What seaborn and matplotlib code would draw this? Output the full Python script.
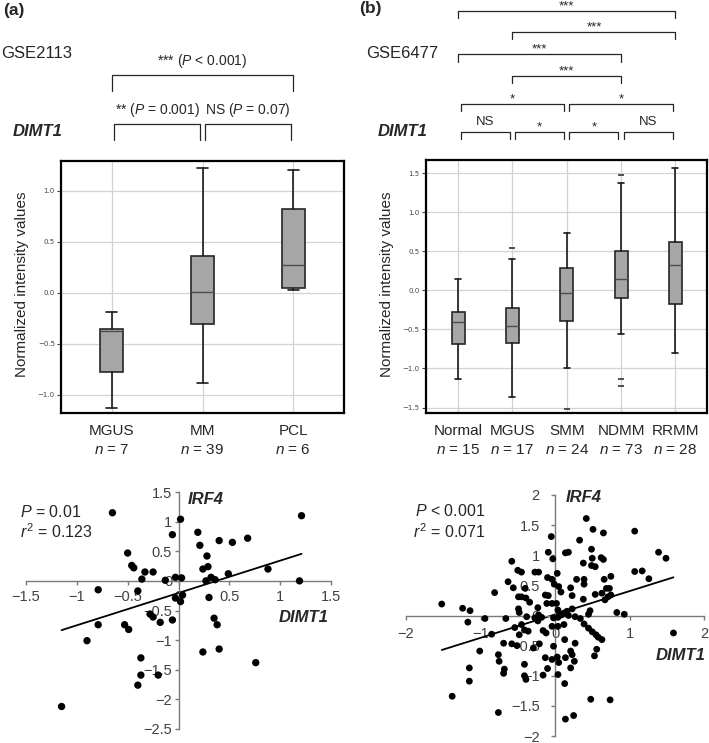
import numpy as np
import pandas as pd
import matplotlib
matplotlib.use('Agg')
import matplotlib.pyplot as plt
import matplotlib.transforms as mtransforms
import seaborn as sns

sns.set_theme(style='white')
plt.rcParams['font.family'] = ['Liberation Sans', 'DejaVu Sans']
plt.rcParams['mathtext.fontset'] = 'custom'
plt.rcParams['mathtext.rm'] = 'Liberation Sans'
plt.rcParams['mathtext.it'] = 'Liberation Sans:italic'
plt.rcParams['mathtext.bf'] = 'Liberation Sans:bold'

# ---- (a) GSE2113 box plot summary (whisker low, Q1, median, Q3, whisker high)
groups_a = ['MGUS', 'MM', 'PCL']
n_a = [7, 39, 6]
lo_a = [-1.13, -0.89, 0.03]
q1_a = [-0.78, -0.31, 0.05]
med_a = [-0.38, 0.01, 0.27]
q3_a = [-0.36, 0.36, 0.82]
hi_a = [-0.19, 1.22, 1.20]
fliers_a = [[], [], []]
# comparisons: (group i, group j, label, bracket level)
comp_a = [(0, 1, '** ($\\it{P}$ = 0.001)', 0),
          (1, 2, 'NS ($\\it{P}$ = 0.07)', 0),
          (0, 2, '*** ($\\it{P}$ < 0.001)', 1)]

# ---- (b) GSE6477 box plot summary
groups_b = ['Normal', 'MGUS', 'SMM', 'NDMM', 'RRMM']
n_b = [15, 17, 24, 73, 28]
lo_b = [-1.14, -1.36, -1.00, -0.56, -0.80]
q1_b = [-0.68, -0.67, -0.39, -0.10, -0.18]
med_b = [-0.41, -0.45, -0.03, 0.14, 0.32]
q3_b = [-0.28, -0.22, 0.29, 0.50, 0.62]
hi_b = [0.15, 0.40, 0.73, 1.38, 1.57]
fliers_b = [[], [0.54], [-1.52], [1.48, -1.14, -1.23], []]
comp_b = [(0, 1, 'NS', 0), (1, 2, '*', 0), (2, 3, '*', 0), (3, 4, 'NS', 0),
          (0, 2, '*', 1), (2, 4, '*', 1),
          (1, 3, '***', 2), (0, 3, '***', 3), (1, 4, '***', 4), (0, 4, '***', 5)]

# ---- scatter (a): DIMT1 vs IRF4, GSE2113
dimt1_a = [-0.65, 0.02, 1.21, -0.06, 0.19, 0.21, 0.40, 0.53, 0.68, -0.50, 0.28, -0.46, -0.44,
           -0.33, -0.25, -0.36, -0.13, -0.03, 0.03, 0.24, 0.29, 0.27, 0.32, 0.36, 0.49, 0.88,
           1.19, -0.79, -0.40, -0.03, 0.02, 0.04, 0.30, -0.79, -0.53, -0.49, -0.90, -0.28,
           -0.25, -0.18, -0.06, 0.35, 0.38, 0.24, 0.40, 0.76, -0.37, -0.37, -0.20, -0.40, -1.15]
irf4_a = [1.15, 1.04, 1.10, 0.78, 0.82, 0.60, 0.68, 0.65, 0.72, 0.47, 0.42, 0.26, 0.22,
          0.15, 0.15, 0.03, 0.01, 0.06, 0.05, 0.20, 0.24, 0.00, 0.06, 0.02, 0.12, 0.20,
          0.00, -0.15, -0.17, -0.29, -0.35, -0.24, -0.28, -0.74, -0.74, -0.82, -1.01, -0.56,
          -0.61, -0.70, -0.66, -0.63, -0.74, -1.20, -1.15, -1.38, -1.30, -1.59, -1.59, -1.76, -2.12]

# ---- scatter (b): DIMT1 vs IRF4, GSE6477
dimt1_b = [0.42, -0.05, 0.51, 0.65, 1.07, 0.33, -0.09, -0.03, 0.14, 0.18, 0.49, 0.50, 0.62,
           0.65, 0.38, 0.49, 0.54, 1.39, 1.49, -0.58, -0.50, -0.45, -0.27, -0.22, 0.03, -0.10,
           -0.04, 0.29, 0.39, 0.39, 0.66, 0.75, 1.07, 1.17, 1.26, -0.63, -0.56, -0.40, -0.01,
           0.05, 0.21, 0.08, 0.23, 0.38, 0.54, 0.63, 0.69, 0.73, 0.71, 0.75, 0.67, -0.81,
           -0.49, -0.45, -0.39, -0.34, -0.13, -0.09, -0.11, -0.04, 0.02, 0.04, 0.12, 0.23,
           0.16, -0.23, -0.49, -0.48, -1.52, -1.24, -1.14, -1.17, -0.94, -0.66, -0.85, -0.38,
           -0.22, -0.27, -0.18, -0.02, 0.04, 0.09, 0.18, 0.27, 0.34, 0.45, 0.47, 0.83, 0.93,
           1.59, -0.54, -0.45, -0.41, -0.48, -0.36, -0.23, -0.16, -0.12, -0.04, 0.04, 0.12,
           0.39, 0.45, 0.50, 0.55, 0.58, 0.63, -0.69, -0.58, -0.51, -0.29, -0.21, -0.02, 0.13,
           0.27, -1.01, -0.76, -0.75, -0.68, -0.69, -0.41, -0.41, -0.39, -0.16, -0.10, -0.13,
           -0.04, 0.03, 0.05, 0.14, 0.21, 0.23, 0.21, 0.26, 0.53, 0.56, 0.04, 0.13, -1.15,
           -1.15, -1.38, -0.76, 0.48, 0.74, 0.14, 0.25]
irf4_b = [1.61, 1.31, 1.43, 1.37, 1.40, 1.25, 1.05, 0.94, 1.04, 1.05, 1.10, 0.95, 0.96,
          0.93, 0.87, 0.83, 0.81, 1.05, 0.95, 0.90, 0.75, 0.72, 0.72, 0.72, 0.70, 0.63,
          0.60, 0.60, 0.60, 0.52, 0.60, 0.65, 0.73, 0.74, 0.61, 0.56, 0.46, 0.45, 0.52,
          0.48, 0.46, 0.39, 0.33, 0.27, 0.35, 0.37, 0.45, 0.45, 0.31, 0.34, 0.26, 0.38,
          0.31, 0.31, 0.29, 0.22, 0.34, 0.33, 0.20, 0.20, 0.20, 0.09, 0.04, 0.11,
          0.07, 0.13, 0.11, 0.05, 0.19, 0.12, 0.08, -0.11, -0.05, -0.05, -0.31, -0.02,
          0.01, -0.04, -0.03, -0.04, -0.03, 0.01, 0.00, -0.02, -0.05, 0.02, 0.08, 0.05, 0.02,
          -0.29, -0.20, -0.15, -0.24, -0.32, -0.26, -0.09, -0.25, -0.29, -0.18, -0.18, -0.15,
          -0.14, -0.21, -0.27, -0.32, -0.36, -0.40, -0.46, -0.47, -0.50, -0.54, -0.47, -0.51, -0.40,
          -0.46, -0.59, -0.65, -0.76, -0.89, -0.96, -0.81, -1.00, -1.06, -0.99, -0.88, -0.70,
          -0.73, -0.69, -0.78, -0.70, -0.59, -0.65, -0.87, -0.76, -0.67, -0.56, -0.98, -1.13, -0.87,
          -1.09, -1.34, -1.61, -1.39, -1.40, -1.72, -1.66]

W, H = 709, 743
fig = plt.figure(figsize=(W / 100, H / 100), dpi=100)


def px_rect(l, t, r, b):
    return [l / W, 1 - b / H, (r - l) / W, (b - t) / H]


def fy(py):
    return 1 - py / H


ax_a = fig.add_axes(px_rect(61, 161, 344, 413))
ax_b = fig.add_axes(px_rect(426, 160, 707, 413))
ax_c = fig.add_axes(px_rect(26, 492, 331, 729))
ax_d = fig.add_axes(px_rect(406, 495, 704, 736))


def draw_box(ax, groups, n, lo, q1, med, q3, hi, fliers, width, capw, xlim, ylim, yticks):
    stats = [dict(label=g, whislo=lo[i], q1=q1[i], med=med[i], q3=q3[i],
                  whishi=hi[i], fliers=fliers[i]) for i, g in enumerate(groups)]
    ax.bxp(stats, positions=list(range(len(groups))), widths=width, capwidths=capw,
           patch_artist=True, manage_ticks=False,
           boxprops=dict(facecolor='#a6a6a6', edgecolor='#262626', linewidth=1.2),
           medianprops=dict(color='#4d4d4d', linewidth=1.0),
           whiskerprops=dict(color='#1a1a1a', linewidth=1.2),
           capprops=dict(color='#1a1a1a', linewidth=1.2),
           flierprops=dict(marker='_', markersize=5, markeredgecolor='#333333',
                           markeredgewidth=1.2))
    ax.set_xlim(xlim)
    ax.set_ylim(ylim)
    ax.set_xticks(range(len(groups)))
    ax.set_xticklabels([])
    ax.set_yticks(yticks)
    ax.grid(True, color='#d3d3d3', linewidth=0.9)
    ax.set_axisbelow(True)
    ax.tick_params(axis='x', length=0)
    ax.tick_params(axis='y', left=True, length=3, width=0.8, color='#444444',
                   labelsize=5, labelcolor='#444444', pad=1.5)
    for lab in ax.get_yticklabels():
        lab.set_fontfamily('DejaVu Sans')
    for sp in ax.spines.values():
        sp.set_color('black')
        sp.set_linewidth(1.6)
    trans = mtransforms.blended_transform_factory(ax.transData, fig.transFigure)
    for i, g in enumerate(groups):
        ax.text(i, fy(431), g, transform=trans, ha='center', va='center', fontsize=11)
        ax.text(i, fy(449.5), '$\\it{n}$ = %d' % n[i], transform=trans, ha='center',
                va='center', fontsize=11)


def draw_brackets(ax, comps, levels_px, leg_px, gap, fontsize):
    trans = mtransforms.blended_transform_factory(ax.transData, fig.transFigure)
    for i, j, label, lev in comps:
        ytop = levels_px[lev]
        x1, x2 = i + gap[lev], j - gap[lev]
        ax.plot([x1, x1, x2, x2], [fy(ytop + leg_px[lev]), fy(ytop), fy(ytop), fy(ytop + leg_px[lev])],
                transform=trans, color='#262626', lw=0.9, clip_on=False)
        stars_only = set(label) == {'*'}
        off = 1.5 if stars_only else (7 if label == 'NS' else 10.5)
        ax.text((i + j) / 2, fy(ytop - off), label, transform=trans, ha='center',
                va='baseline', fontsize=fontsize, clip_on=False)


draw_box(ax_a, groups_a, n_a, lo_a, q1_a, med_a, q3_a, hi_a, fliers_a, 0.25, 0.12,
         (-0.56, 2.56), (-1.18, 1.29), [-1.0, -0.5, 0.0, 0.5, 1.0])
draw_brackets(ax_a, comp_a, {0: 124.3, 1: 75}, {0: 15.7, 1: 15.7}, {0: 0.025, 1: 0.0}, 10)

draw_box(ax_b, groups_b, n_b, lo_b, q1_b, med_b, q3_b, hi_b, fliers_b, 0.24, 0.11,
         (-0.59, 4.58), (-1.57, 1.67), [-1.5, -1.0, -0.5, 0.0, 0.5, 1.0, 1.5])
draw_brackets(ax_b, comp_b, {0: 132.3, 1: 104, 2: 76, 3: 54.3, 4: 31.7, 5: 11},
              {0: 6.5, 1: 6.7, 2: 7.3, 3: 7.4, 4: 7.6, 5: 7.3},
              {0: 0.05, 1: 0.05, 2: 0.0, 3: 0.0, 4: 0.0, 5: 0.0}, 9.5)


def fmt(v):
    return ('%g' % v).replace('-', '\u2212')


def draw_scatter(ax, x, y, xlim, ylim, xticks, yticks, size, xpad, ypad):
    df = pd.DataFrame({'DIMT1': x, 'IRF4': y})
    sns.regplot(data=df, x='DIMT1', y='IRF4', ax=ax, ci=None, scatter=False, truncate=True,
                line_kws=dict(color='black', lw=1.3, zorder=2))
    sns.scatterplot(data=df, x='DIMT1', y='IRF4', ax=ax, color='black', s=size,
                    edgecolor='none', linewidth=0, zorder=3)
    ax.set_xlim(xlim)
    ax.set_ylim(ylim)
    ax.set_xlabel('')
    ax.set_ylabel('')
    ax.patch.set_alpha(0)
    ax.spines['left'].set_position(('data', 0))
    ax.spines['bottom'].set_position(('data', 0))
    ax.spines[['top', 'right']].set_visible(False)
    for s in ('left', 'bottom'):
        ax.spines[s].set_color('#7a7a7a')
        ax.spines[s].set_linewidth(1.0)
    ax.set_xticks(xticks, labels=[fmt(t) for t in xticks])
    ax.set_yticks(yticks, labels=[fmt(t) for t in yticks])
    ax.tick_params(axis='x', bottom=True, direction='out', length=3, width=1.0,
                   color='#7a7a7a', labelsize=10.5, labelcolor='#404040', pad=xpad)
    ax.tick_params(axis='y', left=True, direction='out', length=3, width=1.0,
                   color='#7a7a7a', labelsize=10.5, labelcolor='#404040', pad=ypad)
    ax.grid(False)


draw_scatter(ax_c, dimt1_a, irf4_a, (-1.5, 1.5), (-2.5, 1.5),
             [-1.5, -1, -0.5, 0, 0.5, 1, 1.5], [-2.5, -2, -1.5, -1, -0.5, 0, 0.5, 1, 1.5],
             28, 3.4, 1.5)
draw_scatter(ax_d, dimt1_b, irf4_b, (-2, 2), (-2, 2),
             [-2, -1, 0, 1, 2], [-2, -1.5, -1, -0.5, 0, 0.5, 1, 1.5, 2],
             24, 5.0, 8.0)

# ---- free texts
fig.text(3 / W, fy(10), '(a)', fontsize=12.5, fontweight='bold', va='center')
fig.text(359 / W, fy(8.5), '(b)', fontsize=12.5, fontweight='bold', va='center')
fig.text(1 / W, fy(53.5), 'GSE2113', fontsize=12, va='center')
fig.text(366.5 / W, fy(54), 'GSE6477', fontsize=12, va='center')
fig.text(13 / W, fy(131), 'DIMT1', fontsize=12, fontweight='bold', style='italic', va='center')
fig.text(377.5 / W, fy(131), 'DIMT1', fontsize=12, fontweight='bold', style='italic', va='center')
fig.text(22.5 / W, fy(284), 'Normalized intensity values', fontsize=11, rotation=90,
         ha='center', va='center')
fig.text(387.5 / W, fy(284), 'Normalized intensity values', fontsize=11, rotation=90,
         ha='center', va='center')

fig.text(20 / W, fy(512), '$\\it{P}$ = 0.01', fontsize=11.5, va='center')
fig.text(20 / W, fy(532), '$\\it{r}^2$ = 0.123', fontsize=11.5, va='center')
fig.text(415 / W, fy(511), '$\\it{P}$ < 0.001', fontsize=11.5, va='center')
fig.text(413 / W, fy(532), '$\\it{r}^2$ = 0.071', fontsize=11.5, va='center')
fig.text(188 / W, fy(499), 'IRF4', fontsize=12, fontweight='bold', style='italic', va='center')
fig.text(279 / W, fy(617), 'DIMT1', fontsize=12, fontweight='bold', style='italic', va='center')
fig.text(566 / W, fy(497), 'IRF4', fontsize=12, fontweight='bold', style='italic', va='center')
fig.text(656 / W, fy(655), 'DIMT1', fontsize=12, fontweight='bold', style='italic', va='center')

fig.savefig('out.png', dpi=100)
